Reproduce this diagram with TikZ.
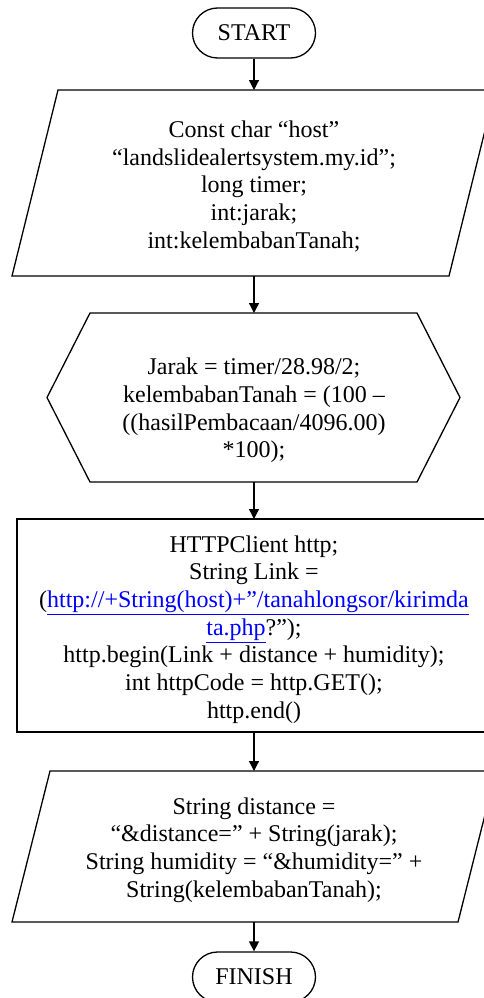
\documentclass[tikz,border=0pt]{standalone}
\usepackage{fontspec}
\setmainfont{Liberation Serif}
\usetikzlibrary{arrows.meta}
\definecolor{linkblue}{RGB}{0,0,255}
\begin{document}
\begin{tikzpicture}[x=1pt,y=1pt,
  outline/.style={draw=black, line width=1.3pt, line join=miter},
  body/.style={font=\fontsize{24}{27.7}\selectfont, align=center, inner sep=0pt},
  term/.style={draw, line width=1.3pt, rounded corners=25pt, minimum width=123pt,
    minimum height=50pt, inner sep=0pt, font=\fontsize{24}{27.7}\selectfont},
  flow/.style={line width=1.3pt, -{Triangle[length=10pt,width=10pt]}}]
\useasboundingbox (0,0) rectangle (483,-998);

% terminators
\node[term] (start) at (254,-33) {START};
\node[term] (finish) at (254,-977) {FINISH};

% declarations (input/output parallelogram)
\coordinate (p1in) at (254,-90);
\coordinate (p1out) at (254,-276);
\draw[outline] (58,-90) -- (495,-90) -- (449,-276) -- (12,-276) -- cycle;
\node[body] (decl) at (254,-186.5) {Const char “host”\\
  “landslidealertsystem.my.id”;\\
  long timer;\\
  int:jarak;\\
  int:kelembabanTanah;};

% preparation hexagon
\coordinate (hxin) at (254,-313);
\coordinate (hxout) at (254,-482);
\draw[outline] (90,-313) -- (417,-313) -- (460,-397.5) -- (417,-482) -- (90,-482) -- (47,-397.5) -- cycle;
\node[body] (calc) at (254,-410.5) {Jarak = timer/28.98/2;\\
  kelembabanTanah = (100 –\\
  ((hasilPembacaan/4096.00)\\
  *100);};

% process box
\coordinate (rcin) at (254,-519);
\coordinate (rcout) at (254,-732);
\draw[outline] (17,-519) rectangle (491,-732);
\node[body] (http) at (254,-629.5) {HTTPClient http;\\
  String Link =\\
  (\textcolor{linkblue}{\underline{http://+String(host)+”/tanahlongsor/kirimda}}\\
  \textcolor{linkblue}{\underline{ta.php}}?”);\\
  http.begin(Link + distance + humidity);\\
  int httpCode = http.GET();\\
  http.end()};

% parameter strings (input/output parallelogram)
\coordinate (p2in) at (254,-771);
\coordinate (p2out) at (254,-922);
\draw[outline] (50,-771) -- (496,-771) -- (458,-922) -- (12,-922) -- cycle;
\node[body] (params) at (254,-850) {String distance =\\
  “\&distance=” + String(jarak);\\
  String humidity = “\&humidity=” +\\
  String(kelembabanTanah);};

% connectors
\draw[flow] (start.south) -- (p1in);
\draw[flow] (p1out) -- (hxin);
\draw[flow] (hxout) -- (rcin);
\draw[flow] (rcout) -- (p2in);
\draw[flow] (p2out) -- (finish.north);
\end{tikzpicture}
\end{document}
